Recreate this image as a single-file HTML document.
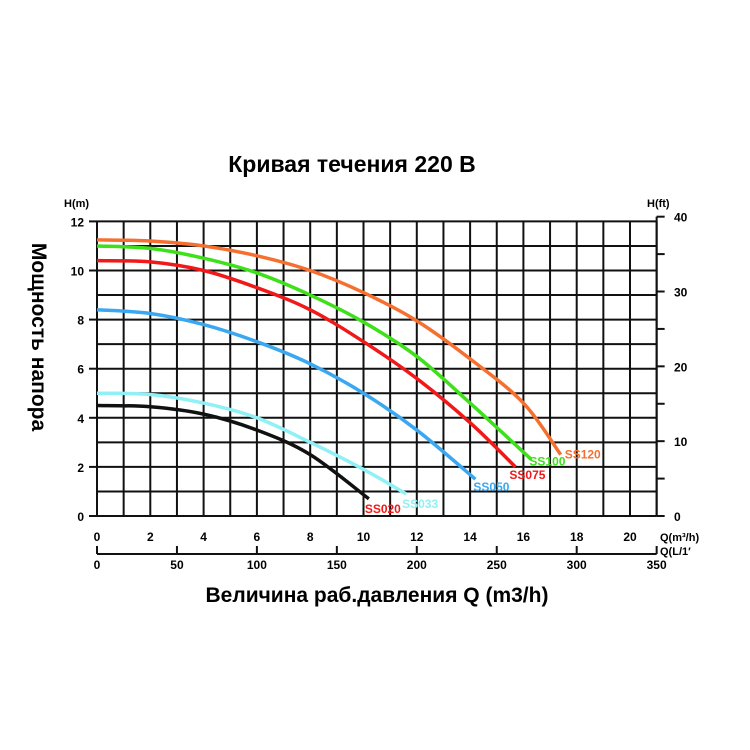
<!DOCTYPE html>
<html><head><meta charset="utf-8"><style>
body{margin:0;background:#fff;}
svg{display:block;font-family:"Liberation Sans",Arial,sans-serif;}
</style></head><body>
<svg id="chart" width="750" height="750">
<text x="352" y="172" text-anchor="middle" font-size="23" font-weight="bold">Кривая течения 220 В</text>
<text x="377" y="602" text-anchor="middle" font-size="21" font-weight="bold">Величина раб.давления Q (m3/h)</text>
<text transform="translate(32,337) rotate(90)" text-anchor="middle" font-size="21" font-weight="bold">Мощность напора</text>
<text x="64" y="207" font-size="11" font-weight="bold">H(m)</text>
<text x="647" y="207" font-size="11" font-weight="bold">H(ft)</text>
<text x="660" y="541" font-size="11" font-weight="bold">Q(m³/h)</text>
<text x="660" y="555" font-size="11" font-weight="bold">Q(L/1′</text>
<g id="grid"></g><g id="axes"></g><g id="series"></g>
</svg>
<script>
const qTicks=[0,2,4,6,8,10,12,14,16,18,20];
const hTicks=[0,2,4,6,8,10,12];
const ftTicks=[0,10,20,30,40];
const lTicks=[0,50,100,150,200,250,300,350];
const names=["SS020","SS033","SS050","SS075","SS100","SS120"];
const colors=["#111111","#8ff0f5","#3aa8f0","#f01818","#3ee01a","#f57030"];
const qSS020=[0,2,4,6,8,10.2];const hSS020=[4.5,4.45,4.15,3.5,2.5,0.7];
const qSS033=[0,2,4,6,8,10,11.6];const hSS033=[5.0,4.95,4.6,4.0,3.0,1.9,0.9];
const qSS050=[0,2,4,6,8,10,12,14.2];const hSS050=[8.4,8.25,7.8,7.1,6.2,5.0,3.5,1.5];
const qSS075=[0,2,4,6,8,10,12,14,15.7];const hSS075=[10.4,10.35,10.0,9.3,8.4,7.1,5.6,3.8,2.0];
const qSS100=[0,2,4,6,8,10,12,14,16.3];const hSS100=[11.0,10.9,10.5,9.9,9.0,7.9,6.5,4.6,2.3];
const qSS120=[0,2,4,6,8,10,12,14,16,17.4];const hSS120=[11.25,11.2,11.0,10.6,10.0,9.1,7.95,6.4,4.6,2.5];
const qs=[qSS020,qSS033,qSS050,qSS075,qSS100,qSS120];
const hs=[hSS020,hSS033,hSS050,hSS075,hSS100,hSS120];
const X=q=>97+q*26.65, Y=h=>516-h*24.55, YF=f=>Y(f*0.3048), XL=l=>X(l*0.06);
const NS="http://www.w3.org/2000/svg";
function mk(t,a,p){const e=document.createElementNS(NS,t);for(const k in a)e.setAttribute(k,a[k]);p.appendChild(e);return e;}
const grid=document.getElementById('grid'),axes=document.getElementById('axes'),ser=document.getElementById('series');
for(let i=0;i<=21;i++){const l=mk('line',{x1:X(i),x2:X(i),y1:Y(0),y2:Y(12),stroke:'#111','stroke-width':2},grid);

}
for(let i=0;i<=12;i++){const l=mk('line',{x1:X(0),x2:X(21),y1:Y(i),y2:Y(i),stroke:'#111','stroke-width':2},grid);

}
mk('line',{x1:X(21),x2:X(21),y1:Y(0),y2:YF(40),stroke:'#111','stroke-width':2},axes);
hTicks.forEach(h=>{mk('line',{x1:X(0)-8,x2:X(0),y1:Y(h),y2:Y(h),stroke:'#111','stroke-width':2},axes);
const t=mk('text',{x:84,y:Y(h)+5,'text-anchor':'end','font-size':12,'font-weight':'bold'},axes);t.textContent=h;

});
for(let f=0;f<=40;f+=5){mk('line',{x1:X(21),x2:X(21)+8,y1:YF(f),y2:YF(f),stroke:'#111','stroke-width':2},axes);}
ftTicks.forEach(f=>{const t=mk('text',{x:674,y:YF(f)+5,'font-size':12,'font-weight':'bold'},axes);t.textContent=f;

});
qTicks.forEach(q=>{const t=mk('text',{x:X(q),y:541,'text-anchor':'middle','font-size':12,'font-weight':'bold'},axes);t.textContent=q;

});
mk('line',{x1:X(0),x2:X(21),y1:554,y2:554,stroke:'#111','stroke-width':2},axes);
lTicks.forEach(l=>{mk('line',{x1:XL(l),x2:XL(l),y1:546,y2:554,stroke:'#111','stroke-width':2},axes);
const t=mk('text',{x:XL(l),y:569,'text-anchor':'middle','font-size':12,'font-weight':'bold'},axes);t.textContent=l;

});
function smooth(p){let d='M'+p[0][0]+','+p[0][1];for(let i=0;i<p.length-1;i++){const p0=p[i-1]||p[i],p1=p[i],p2=p[i+1],p3=p[i+2]||p2;
d+=' C'+(p1[0]+(p2[0]-p0[0])/6)+','+(p1[1]+(p2[1]-p0[1])/6)+' '+(p2[0]-(p3[0]-p1[0])/6)+','+(p2[1]-(p3[1]-p1[1])/6)+' '+p2[0]+','+p2[1];}return d;}
const lblOff=[[-4,14],[-4,14],[-2,12],[-6,12],[-2,6],[4,4]];
const lblCol=["#f01818","#8ff0f5","#3aa8f0","#f01818","#3ee01a","#f57030"];
names.forEach((n,i)=>{const pts=qs[i].map((q,j)=>[X(q),Y(hs[i][j])]);
const p=mk('path',{d:smooth(pts),fill:'none',stroke:colors[i],'stroke-width':3.5},ser);


const e=pts[pts.length-1];
const t=mk('text',{x:e[0]+lblOff[i][0],y:e[1]+lblOff[i][1],'font-size':12,'font-weight':'bold',fill:lblCol[i]},ser);t.textContent=n;

});
</script>
</body></html>
